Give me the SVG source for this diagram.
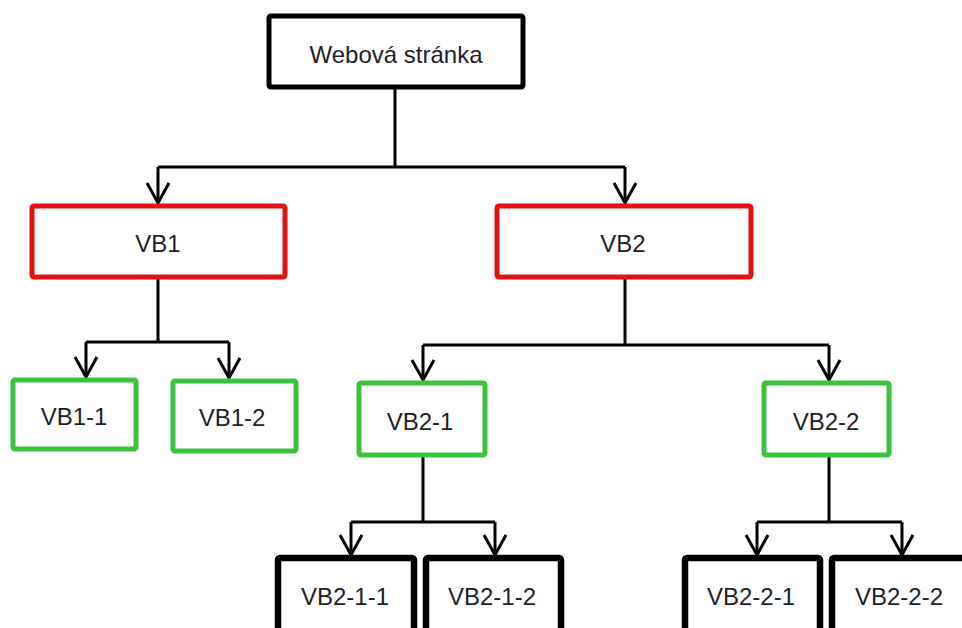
<svg xmlns="http://www.w3.org/2000/svg" width="962" height="628" viewBox="0 0 962 628">
  <style>
    .box { fill: #ffffff; stroke-linejoin: round; }
    .root { stroke: #000000; stroke-width: 5; }
    .lvl1 { stroke: #e1120f; stroke-width: 5; }
    .lvl2 { stroke: #3cc13a; stroke-width: 5; }
    .lvl3 { stroke: #000000; stroke-width: 6.5; }
    .label { font-family: "Liberation Sans", Arial, sans-serif; font-size: 24px; fill: #1e1e28; text-anchor: middle; }
    .wire { fill: none; stroke: #000000; stroke-width: 3; }
    .arrow { fill: none; stroke: #000000; stroke-width: 3; stroke-linejoin: miter; }
  </style>
  <defs>
    <marker id="open-arrow" markerUnits="userSpaceOnUse" markerWidth="30" markerHeight="30" viewBox="-24 -15 28 30" refX="0" refY="0" orient="auto">
      <path class="arrow" d="M-20,-11 L0,0 L-20,11"/>
    </marker>
  </defs>

  <!-- connectors -->
  <g id="connectors">
    <path class="wire" d="M395,87 V167 M158,167 H625"/>
    <path class="wire" d="M158,167 V203" marker-end="url(#open-arrow)"/>
    <path class="wire" d="M625,167 V203" marker-end="url(#open-arrow)"/>

    <path class="wire" d="M158,279 V342 M86,342 H229"/>
    <path class="wire" d="M86,342 V377" marker-end="url(#open-arrow)"/>
    <path class="wire" d="M229,342 V378" marker-end="url(#open-arrow)"/>

    <path class="wire" d="M625,279 V345 M423,345 H829"/>
    <path class="wire" d="M423,345 V380" marker-end="url(#open-arrow)"/>
    <path class="wire" d="M829,345 V380" marker-end="url(#open-arrow)"/>

    <path class="wire" d="M423,457 V522 M351,522 H495"/>
    <path class="wire" d="M351,522 V555" marker-end="url(#open-arrow)"/>
    <path class="wire" d="M495,522 V555" marker-end="url(#open-arrow)"/>

    <path class="wire" d="M829,457 V522 M757,522 H902"/>
    <path class="wire" d="M757,522 V555" marker-end="url(#open-arrow)"/>
    <path class="wire" d="M902,522 V555" marker-end="url(#open-arrow)"/>
  </g>

  <!-- root -->
  <g id="webova-stranka">
    <rect class="box root" x="269" y="16" width="254" height="71" rx="2"/>
    <text class="label" x="396" y="63">Webová stránka</text>
  </g>

  <!-- first level -->
  <g id="vb1">
    <rect class="box lvl1" x="32" y="206" width="253" height="71" rx="2"/>
    <text class="label" x="158" y="252">VB1</text>
  </g>
  <g id="vb2">
    <rect class="box lvl1" x="497" y="206" width="254" height="71" rx="2"/>
    <text class="label" x="623" y="252">VB2</text>
  </g>

  <!-- second level -->
  <g id="vb1-1">
    <rect class="box lvl2" x="13" y="380" width="123" height="69" rx="2"/>
    <text class="label" x="74" y="425">VB1-1</text>
  </g>
  <g id="vb1-2">
    <rect class="box lvl2" x="173" y="381" width="123" height="70" rx="2"/>
    <text class="label" x="232" y="426">VB1-2</text>
  </g>
  <g id="vb2-1">
    <rect class="box lvl2" x="359" y="383" width="126" height="72" rx="2"/>
    <text class="label" x="420" y="430">VB2-1</text>
  </g>
  <g id="vb2-2">
    <rect class="box lvl2" x="764" y="383" width="125" height="72" rx="2"/>
    <text class="label" x="826" y="430">VB2-2</text>
  </g>

  <!-- third level -->
  <g id="vb2-1-1">
    <rect class="box lvl3" x="278" y="558" width="136" height="74" rx="2"/>
    <text class="label" x="345" y="605">VB2-1-1</text>
  </g>
  <g id="vb2-1-2">
    <rect class="box lvl3" x="426" y="558" width="135" height="74" rx="2"/>
    <text class="label" x="492" y="605">VB2-1-2</text>
  </g>
  <g id="vb2-2-1">
    <rect class="box lvl3" x="685" y="558" width="135" height="74" rx="2"/>
    <text class="label" x="751" y="605">VB2-2-1</text>
  </g>
  <g id="vb2-2-2">
    <rect class="box lvl3" x="832" y="558" width="145" height="74" rx="2"/>
    <text class="label" x="899" y="605">VB2-2-2</text>
  </g>
</svg>
